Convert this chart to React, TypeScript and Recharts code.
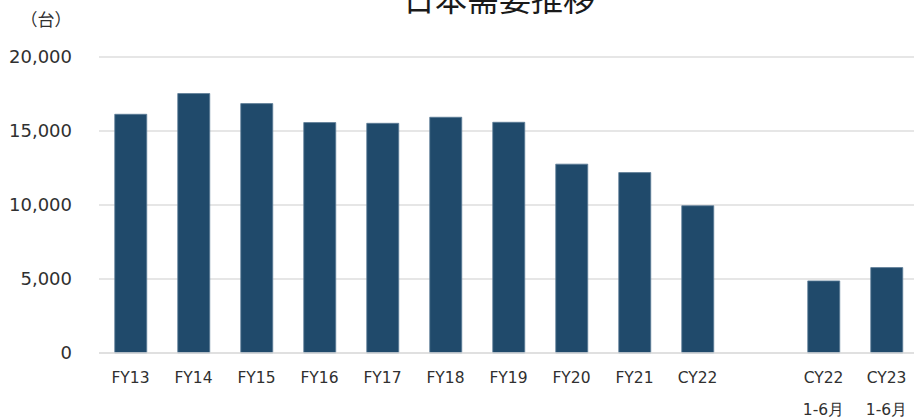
import React from "react";
import { BarChart, Bar, XAxis, YAxis, CartesianGrid } from "recharts";

const categories = ["FY13", "FY14", "FY15", "FY16", "FY17", "FY18", "FY19", "FY20", "FY21", "CY22", " ", "CY22\n1-6月", "CY23\n1-6月"];
const demand: (number | null)[] = [16130, 17530, 16850, 15570, 15520, 15930, 15590, 12760, 12190, 9950, null, 4870, 5770];
const yTicks = [0, 5000, 10000, 15000, 20000];
const title = "日本需要推移";
const unitLabel = "（台）";

const data = categories.map((c, i) => ({ name: c, value: demand[i] }));

const fmt = (v: number) => String(v).replace(/\B(?=(\d{3})+(?!\d))/g, ",");

const FONT = "'DejaVu Sans', Verdana, sans-serif";
const TEXT = "#303030";

const XTick = (props: any) => {
  const { x, y, payload } = props;
  const lines = String(payload.value).split("\n");
  return (
    <g>
      {lines.map((l, i) => (
        <text key={i} x={x} y={y + 30 + i * 32} textAnchor="middle" fontSize={15.5} fill={TEXT} fontFamily={FONT}>
          {l}
        </text>
      ))}
    </g>
  );
};

export default function App() {
  return (
    <div style={{ position: "absolute", left: 0, top: 0, width: 914, height: 418, overflow: "hidden", background: "#fff" }}>
      <div
        style={{
          position: "absolute",
          left: 339,
          width: 320,
          top: -19,
          textAlign: "center",
          fontSize: 32,
          lineHeight: "32px",
          fontFamily: "'Noto Sans CJK JP', sans-serif",
          color: "#1a1a1a",
        }}
      >
        {title}
      </div>
      <div
        style={{
          position: "absolute",
          left: 20,
          width: 52,
          top: 10,
          textAlign: "center",
          fontSize: 17,
          lineHeight: "17px",
          fontFamily: "'Noto Sans CJK JP', sans-serif",
          color: TEXT,
        }}
      >
        {unitLabel}
      </div>
      <div style={{ position: "absolute", left: 0, top: 0 }}>
        <BarChart width={918} height={418} data={data} margin={{ top: 57, right: 0, bottom: 0, left: 0 }} barCategoryGap="25%">
          <CartesianGrid vertical={false} stroke="#dedede" strokeWidth={1.5} />
          <XAxis
            dataKey="name"
            height={65}
            interval={0}
            tickLine={false}
            tickSize={0}
            tickMargin={0}
            axisLine={{ stroke: "#dedede", strokeWidth: 1.5 }}
            tick={<XTick />}
          />
          <YAxis
            width={99}
            domain={[0, 20000]}
            ticks={yTicks}
            tickFormatter={fmt}
            axisLine={false}
            tickLine={false}
            tickSize={0}
            tickMargin={27}
            tick={{ fontSize: 18, fill: TEXT, fontFamily: FONT }}
          />
          <Bar dataKey="value" fill="#204A6B" stroke="#5d7c97" strokeWidth={0.8} isAnimationActive={false} />
        </BarChart>
      </div>
    </div>
  );
}
